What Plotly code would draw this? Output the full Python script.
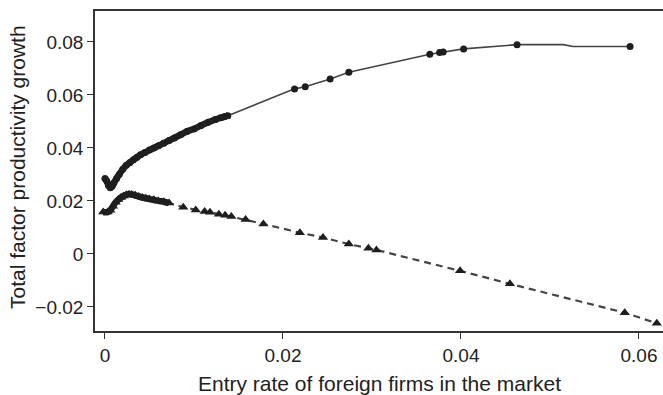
import plotly.graph_objects as go

# Upper series (circles, solid line)
up_x = [0.0000, 0.0002, 0.0004, 0.0006, 0.0008, 0.0010, 0.0013, 0.0016, 0.0020, 0.0024,
        0.0028, 0.0032, 0.0036, 0.0040, 0.0045, 0.0050, 0.0055, 0.0060, 0.0066, 0.0072,
        0.0078, 0.0085, 0.0092, 0.0100, 0.0108, 0.0116, 0.0124, 0.0130, 0.0134, 0.0138,
        0.0213, 0.0225, 0.0253, 0.0274, 0.0365, 0.0376, 0.0380, 0.0403, 0.0463, 0.0590]
up_y = [0.0285, 0.0275, 0.0258, 0.0250, 0.0255, 0.0268, 0.0285, 0.0300, 0.0320, 0.0335,
        0.0345, 0.0355, 0.0365, 0.0374, 0.0383, 0.0392, 0.0400, 0.0408, 0.0418, 0.0428,
        0.0438, 0.0450, 0.0462, 0.0472, 0.0485, 0.0497, 0.0507, 0.0514, 0.0518, 0.0522,
        0.0623, 0.0631, 0.0660, 0.0686, 0.0754, 0.0760, 0.0762, 0.0774, 0.0790, 0.0783]
# Line-only bends of the upper curve between its last two markers (no marker drawn)
bend_x = [0.0515, 0.0526]
bend_y = [0.0790, 0.0783]

# Lower series (triangles, dashed line)
lo_x = [-0.0002, 0.0003, 0.0006, 0.0009, 0.0012, 0.0015, 0.0018, 0.0021, 0.0024, 0.0027,
        0.0030, 0.0034, 0.0038, 0.0042, 0.0046, 0.0050, 0.0055, 0.0060, 0.0066, 0.0072,
        0.0088, 0.0102, 0.0112, 0.0118, 0.0128, 0.0135, 0.0142, 0.0158, 0.0178, 0.0219,
        0.0245, 0.0274, 0.0296, 0.0305, 0.0399, 0.0455, 0.0584, 0.0620]
lo_y = [0.0158, 0.0158, 0.0165, 0.0180, 0.0195, 0.0205, 0.0213, 0.0219, 0.0223, 0.0225,
        0.0224, 0.0221, 0.0217, 0.0213, 0.0210, 0.0207, 0.0204, 0.0200, 0.0197, 0.0192,
        0.0176, 0.0166, 0.0160, 0.0157, 0.0150, 0.0146, 0.0141, 0.0130, 0.0113, 0.0080,
        0.0062, 0.0037, 0.0021, 0.0015, -0.0064, -0.0113, -0.0222, -0.0262]

x_ticks = [0, 0.02, 0.04, 0.06]
x_tick_text = ["0", "0.02", "0.04", "0.06"]
y_ticks = [-0.02, 0, 0.02, 0.04, 0.06, 0.08]
y_tick_text = ["\u22120.02", "0", "0.02", "0.04", "0.06", "0.08"]
x_title = "Entry rate of foreign firms in the market"
y_title = "Total factor productivity growth"

n_dense_up = 30   # markers that overlap into a thick band
n_dense_lo = 20

line_x = up_x[:39] + bend_x + up_x[39:]
line_y = up_y[:39] + bend_y + up_y[39:]

fig = go.Figure()
# thick band where markers overlap
fig.add_trace(go.Scatter(x=up_x[:n_dense_up], y=up_y[:n_dense_up], mode="lines",
                         line=dict(color="#1e1e1e", width=6.5, shape="spline"), showlegend=False))
fig.add_trace(go.Scatter(x=lo_x[:n_dense_lo], y=lo_y[:n_dense_lo], mode="lines",
                         line=dict(color="#1e1e1e", width=6.5, shape="spline"), showlegend=False))
fig.add_trace(go.Scatter(x=line_x, y=line_y, mode="lines",
                         line=dict(color="#444444", width=1.6), showlegend=False))
fig.add_trace(go.Scatter(x=up_x, y=up_y, mode="markers",
                         marker=dict(symbol="circle", size=7, color="#1e1e1e"), showlegend=False))
fig.add_trace(go.Scatter(x=lo_x, y=lo_y, mode="lines",
                         line=dict(color="#444444", width=2.2, dash="7px,5px"), showlegend=False))
fig.add_trace(go.Scatter(x=lo_x, y=lo_y, mode="markers",
                         marker=dict(symbol="triangle-up", size=9, color="#1e1e1e"), showlegend=False))

font = "Liberation Sans, Arial, sans-serif"
fig.update_layout(
    width=663, height=395,
    margin=dict(l=95, r=0, t=11, b=64),
    paper_bgcolor="white", plot_bgcolor="white",
    font=dict(family=font, color="#222222"),
    xaxis=dict(range=[-0.00112, 0.0627], tickvals=x_ticks, ticktext=x_tick_text,
               showgrid=False, zeroline=False, showline=True, linecolor="#333333", linewidth=1.5,
               mirror=True, ticks="outside", ticklen=6, tickcolor="#333333", tickwidth=1.2,
               tickfont=dict(size=19, family=font, color="#222222"), automargin=False),
    yaxis=dict(range=[-0.0291, 0.0917], tickvals=y_ticks, ticktext=y_tick_text,
               showgrid=False, zeroline=False, showline=True, linecolor="#333333", linewidth=1.5,
               ticks="outside", ticklen=6, tickcolor="#333333", tickwidth=1.2,
               tickfont=dict(size=19, family=font, color="#222222"), automargin=False),
    annotations=[
        dict(text=x_title, xref="paper", yref="paper", x=0.5, y=-0.1656,
             xanchor="center", yanchor="middle", showarrow=False,
             font=dict(size=21, family=font, color="#222222")),
        dict(text=y_title, xref="paper", yref="paper", x=-0.1373, y=0.5125,
             xanchor="center", yanchor="middle", textangle=-90, showarrow=False,
             font=dict(size=21, family=font, color="#222222")),
    ],
)

fig.write_html("out.html", config={"displayModeBar": False},
               post_script="document.body.style.margin='0';document.body.style.overflow='hidden';")
